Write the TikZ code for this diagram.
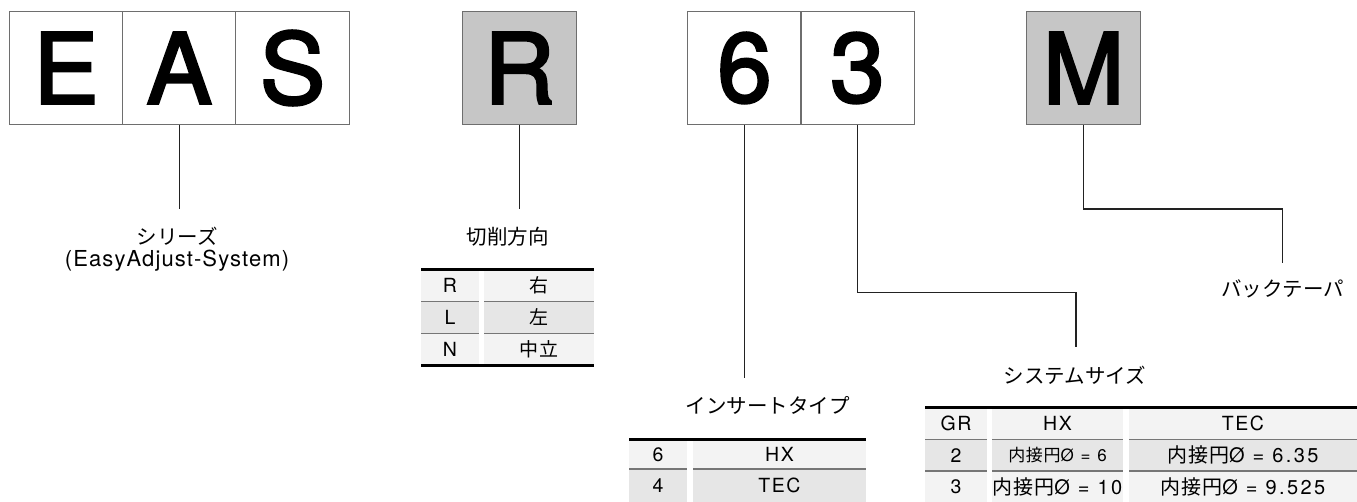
\documentclass[tikz,border=0pt]{standalone}
\usepackage{fontspec}
\setmainfont{TeX Gyre Heros}
\newfontfamily\jp{Noto Sans CJK JP}
\newfontfamily\bigfnt[FakeBold=2.6]{TeX Gyre Heros}
\newfontfamily\lat[LetterSpace=5]{TeX Gyre Heros}
\newfontfamily\tlat[LetterSpace=12]{TeX Gyre Heros}
\newfontfamily\tlatb[LetterSpace=8]{TeX Gyre Heros}
\newfontfamily\tjp[LetterSpace=4]{Noto Sans CJK JP}
\definecolor{boxline}{HTML}{6E6E6E}
\definecolor{boxfill}{HTML}{C6C6C6}
\definecolor{rowlight}{HTML}{F3F3F3}
\definecolor{rowdark}{HTML}{E6E6E6}
\definecolor{sepgray}{HTML}{767676}
\definecolor{conn}{HTML}{222222}
\tikzset{
  letterbox/.style={draw=boxline, line width=1pt, minimum width=113.3pt, minimum height=112.6pt, inner sep=0pt, font=\bigfnt\fontsize{98}{99}\selectfont},
  graybox/.style={letterbox, fill=boxfill},
  connector/.style={draw=conn, line width=1.2pt},
  lbl/.style={inner sep=0pt, font=\jp\fontsize{20.5}{24}\selectfont},
  lbllat/.style={inner sep=0pt, font=\lat\fontsize{22}{24}\selectfont},
  tcell/.style={inner sep=0pt, font=\tlatb\fontsize{19.5}{22}\selectfont},
  tcelln/.style={inner sep=0pt, font=\tlat\fontsize{20}{22}\selectfont},
  tcellj/.style={inner sep=0pt, font=\tjp\fontsize{19}{22}\selectfont},
  thickrule/.style={draw=black, line width=2.6pt},
  thinrule/.style={draw=sepgray, line width=1.4pt}
}
\begin{document}
\begin{tikzpicture}[x=1pt,y=-1pt]
\fill[white] (0,0) rectangle (1357,502);
\useasboundingbox (0,0) rectangle (1357,502);

% code boxes
\node[letterbox] (E) at (66,68) {E};
\node[letterbox] (A) at (179.3,68) {A};
\node[letterbox] (S) at (292.6,68) {S};
\node[graybox] (R) at (519.5,68) {R};
\node[letterbox] (six) at (744.5,68) {6};
\node[letterbox] (three) at (857.5,68) {3};
\node[graybox] (M) at (1083.5,68) {M};

% free ends
\coordinate (cA) at (179.3,209);
\coordinate (cR) at (519.5,209);
\coordinate (c6) at (744.5,378);
\coordinate (c3a) at (857.5,292.3);
\coordinate (c3b) at (1076,292.3);
\coordinate (c3c) at (1076,347);
\coordinate (cMa) at (1083.5,209);
\coordinate (cMb) at (1282.3,209);
\coordinate (cMc) at (1282.3,263);

\draw[connector] (A.south) -- (cA);
\draw[connector] (R.south) -- (cR);
\draw[connector] (six.south) -- (c6);
\draw[connector] (three.south) -- (c3a) -- (c3b) -- (c3c);
\draw[connector] (M.south) -- (cMa) -- (cMb) -- (cMc);

% labels
\node[lbl] (serj) at (177,236) {シリーズ};
\node[lbllat] (sere) at (177,261) {(EasyAdjust-System)};
\node[lbl] (dirl) at (507.5,237) {切削方向};
\node[lbl] (insl) at (767.5,405.5) {インサートタイプ};
\node[lbl] (sysl) at (1075,375) {システムサイズ};
\node[lbl] (backl) at (1282.5,289) {バックテーパ};

% ---- table: cutting direction
\fill[rowlight] (421,269.3) rectangle (479,301.7);
\fill[rowlight] (484,269.3) rectangle (594,301.7);
\fill[rowdark] (421,301.7) rectangle (479,333.3);
\fill[rowdark] (484,301.7) rectangle (594,333.3);
\fill[rowlight] (421,333.3) rectangle (479,365.7);
\fill[rowlight] (484,333.3) rectangle (594,365.7);
\draw[thinrule] (421,301.7) -- (479,301.7) (484,301.7) -- (594,301.7);
\draw[thinrule] (421,333.3) -- (479,333.3) (484,333.3) -- (594,333.3);
\draw[thickrule] (421,269.3) -- (594,269.3);
\draw[thickrule] (421,365.7) -- (594,365.7);
\node[tcell] (d1a) at (450,285.5) {R};
\node[tcellj] (d1b) at (539,285.5) {右};
\node[tcell] (d2a) at (450,317.5) {L};
\node[tcellj] (d2b) at (539,317.5) {左};
\node[tcell] (d3a) at (450,349.5) {N};
\node[tcellj] (d3b) at (539,349.5) {中立};

% ---- table: insert type
\fill[rowlight] (629,439.3) rectangle (687,469);
\fill[rowlight] (693,439.3) rectangle (866,469);
\fill[rowdark] (629,469) rectangle (687,502);
\fill[rowdark] (693,469) rectangle (866,502);
\draw[thinrule] (629,469) -- (687,469) (693,469) -- (866,469);
\draw[thickrule] (629,439.3) -- (866,439.3);
\node[tcell] (i1a) at (658,454.5) {6};
\node[tcell] (i1b) at (779.5,454.5) {HX};
\node[tcell] (i2a) at (658,485.5) {4};
\node[tcell] (i2b) at (779.5,485.5) {TEC};

% ---- table: system size
\fill[rowlight] (925,407.3) rectangle (987,439.3);
\fill[rowlight] (992,407.3) rectangle (1123,439.3);
\fill[rowlight] (1129,407.3) rectangle (1357,439.3);
\fill[rowdark] (925,439.3) rectangle (987,471);
\fill[rowdark] (992,439.3) rectangle (1123,471);
\fill[rowdark] (1129,439.3) rectangle (1357,471);
\fill[rowlight] (925,471) rectangle (987,502);
\fill[rowlight] (992,471) rectangle (1123,502);
\fill[rowlight] (1129,471) rectangle (1357,502);
\draw[thinrule] (925,439.3) -- (987,439.3) (992,439.3) -- (1123,439.3) (1129,439.3) -- (1357,439.3);
\draw[thinrule] (925,471) -- (987,471) (992,471) -- (1123,471) (1129,471) -- (1357,471);
\draw[thickrule] (925,407.3) -- (1357,407.3);
\node[tcell] (s0a) at (956,423.5) {GR};
\node[tcell] (s0b) at (1057.5,423.5) {HX};
\node[tcell] (s0c) at (1243,423.5) {TEC};
\node[tcell] (s1a) at (956,455.3) {2};
\node[tcelln, font=\tlat\fontsize{17}{20}\selectfont] (s1b) at (1057.5,455.3) {{\tjp 内接円}Ø = 6};
\node[tcelln] (s1c) at (1243,455.3) {{\tjp 内接円}Ø = 6.35};
\node[tcell] (s2a) at (956,486.5) {3};
\node[tcelln] (s2b) at (1057.5,486.5) {{\tjp 内接円}Ø = 10};
\node[tcelln] (s2c) at (1243,486.5) {{\tjp 内接円}Ø = 9.525};
\end{tikzpicture}
\end{document}
